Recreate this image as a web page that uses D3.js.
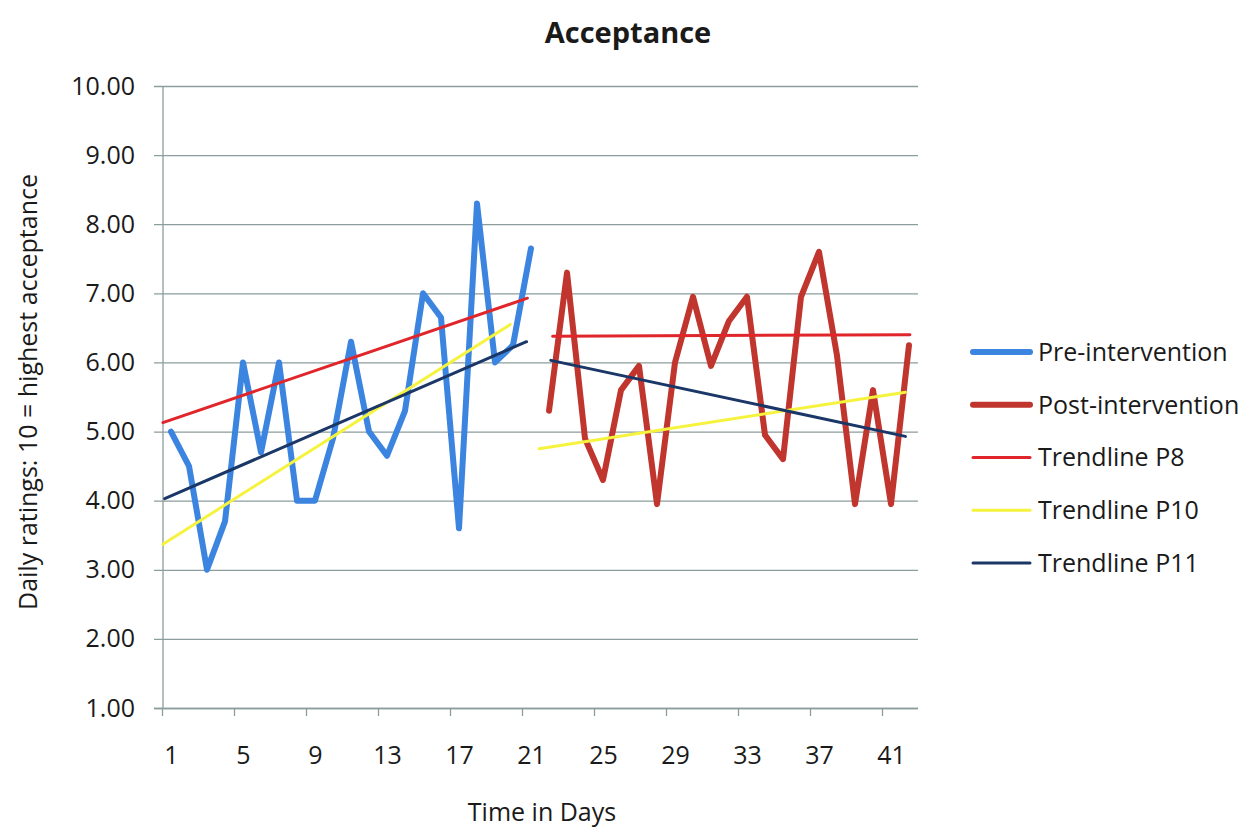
<!DOCTYPE html>
<html>
<head>
<meta charset="utf-8">
<script src="https://cdn.jsdelivr.net/npm/d3@7"></script>
<style>
  html, body { margin: 0; padding: 0; background: #fff; }
  svg { display: block; }
  text { font-family: "Open Sans", Lato, sans-serif; fill: #1a1a1a; }
</style>
</head>
<body>
<svg id="chart" width="1246" height="830"></svg>
<script>
// ---- data ----
const preDays = [1,2,3,4,5,6,7,8,9,10,11,12,13,14,15,16,17,18,19,20,21];
const preValues = [5.0,4.5,3.0,3.7,6.0,4.7,6.0,4.0,4.0,4.9,6.3,5.0,4.65,5.3,7.0,6.65,3.6,8.3,6.0,6.25,7.65];
const postDays = [22,23,24,25,26,27,28,29,30,31,32,33,34,35,36,37,38,39,40,41,42];
const postValues = [5.3,7.3,4.9,4.3,5.6,5.95,3.95,6.0,6.95,5.95,6.6,6.95,4.95,4.6,6.95,7.6,6.1,3.95,5.6,3.95,6.25];
// trendlines: [startDay, startValue, endDay, endValue]
const trendP8 = [[0.55, 5.13, 20.8, 6.93], [22.2, 6.38, 42.05, 6.40]];
const trendP10 = [[0.55, 3.37, 19.85, 6.55], [21.45, 4.75, 41.8, 5.57]];
const trendP11 = [[0.65, 4.03, 20.75, 6.30], [22.1, 6.03, 41.8, 4.93]];
const yTicks = [1,2,3,4,5,6,7,8,9,10];
const xLabelDays = [1,5,9,13,17,21,25,29,33,37,41];
const xTickBounds = [0.5,4.5,8.5,12.5,16.5,20.5,24.5,28.5,32.5,36.5,40.5];
const legendLabels = ["Pre-intervention","Post-intervention","Trendline P8","Trendline P10","Trendline P11"];

const colors = {pre:"#3b84df", post:"#c0352d", p8:"#e0262b", p10:"#f6f33e", p11:"#1b3767"};
const gridColor = "#8c9d9d";

const svg = d3.select("#chart");
const plotL = 162, plotR = 918, plotT = 86, plotB = 708;

const x = d3.scaleLinear().domain([0.5, 42.5]).range([plotL, plotR]);
const y = d3.scaleLinear().domain([1, 10]).range([plotB, plotT]);

// gridlines (extend outside as tick marks)
svg.append("g")
  .attr("transform", `translate(${plotR},0)`)
  .call(d3.axisLeft(y).tickValues(yTicks).tickSize(plotR - plotL + 8).tickFormat(""))
  .call(g => g.select(".domain").remove())
  .call(g => g.selectAll("line").attr("stroke", gridColor).attr("stroke-width", 1.3));

// y axis line
svg.append("line")
  .attr("x1", plotL + 1).attr("x2", plotL + 1)
  .attr("y1", y(10)).attr("y2", y(1))
  .attr("stroke", gridColor).attr("stroke-width", 1.3);

// y tick labels
svg.append("g")
  .attr("transform", `translate(${plotL},0)`)
  .call(d3.axisLeft(y).tickValues(yTicks).tickSize(0).tickPadding(27).tickFormat(d3.format(".2f")))
  .call(g => g.select(".domain").remove())
  .call(g => g.selectAll("text").style("font-size", "25px").attr("fill", "#1a1a1a"));

// x axis ticks
svg.append("g")
  .attr("transform", `translate(0,${plotB})`)
  .call(d3.axisBottom(x).tickValues(xTickBounds).tickSize(8).tickFormat(""))
  .call(g => g.select(".domain").attr("stroke", gridColor).attr("stroke-width", 1.3).attr("d", `M${plotL - 8},0.5H${plotR}`))
  .call(g => g.selectAll("line").attr("stroke", gridColor).attr("stroke-width", 1.3));

// x labels
svg.append("g")
  .attr("transform", `translate(0,${plotB})`)
  .call(d3.axisBottom(x).tickValues(xLabelDays).tickSize(0).tickPadding(38))
  .call(g => g.select(".domain").remove())
  .call(g => g.selectAll("text").style("font-size", "25px").attr("fill", "#1a1a1a"));

// data lines
const line = d3.line().x(d => x(d[0])).y(d => y(d[1]));
svg.append("path")
  .datum(preDays.map((d, i) => [d, preValues[i]]))
  .attr("d", line).attr("fill", "none")
  .attr("stroke", colors.pre).attr("stroke-width", 6)
  .attr("stroke-linejoin", "round").attr("stroke-linecap", "round");
svg.append("path")
  .datum(postDays.map((d, i) => [d, postValues[i]]))
  .attr("d", line).attr("fill", "none")
  .attr("stroke", colors.post).attr("stroke-width", 6)
  .attr("stroke-linejoin", "round").attr("stroke-linecap", "round");

// trendlines
function drawTrend(arr, color) {
  arr.forEach(t => {
    svg.append("path")
      .datum([[t[0], t[1]], [t[2], t[3]]])
      .attr("d", line).attr("fill", "none")
      .attr("stroke", color).attr("stroke-width", 3)
      .attr("stroke-linecap", "round");
  });
}
drawTrend(trendP8, colors.p8);
drawTrend(trendP10, colors.p10);
drawTrend(trendP11, colors.p11);

// title
svg.append("text")
  .attr("x", 628).attr("y", 43)
  .attr("text-anchor", "middle")
  .style("font-size", "29px").style("font-weight", "bold")
  .text("Acceptance");

// axis titles
svg.append("text")
  .attr("transform", "translate(37,392) rotate(-90)")
  .attr("text-anchor", "middle")
  .style("font-size", "25px")
  .text("Daily ratings: 10 = highest acceptance");
svg.append("text")
  .attr("x", 542).attr("y", 821)
  .attr("text-anchor", "middle")
  .style("font-size", "25px")
  .text("Time in Days");

// legend
const legendColors = [colors.pre, colors.post, colors.p8, colors.p10, colors.p11];
const legendWidths = [6, 6, 3, 3, 3];
const legendY = d3.scalePoint().domain(legendLabels).range([352, 563]);
const lg = svg.append("g");
legendLabels.forEach((lab, i) => {
  const yy = legendY(lab);
  lg.append("line")
    .attr("x1", 973).attr("x2", 1030).attr("y1", yy).attr("y2", yy)
    .attr("stroke", legendColors[i]).attr("stroke-width", legendWidths[i])
    .attr("stroke-linecap", "round");
  lg.append("text")
    .attr("x", 1038).attr("y", yy).attr("dy", "0.35em")
    .style("font-size", "25px")
    .text(lab);
});
</script>
</body>
</html>
